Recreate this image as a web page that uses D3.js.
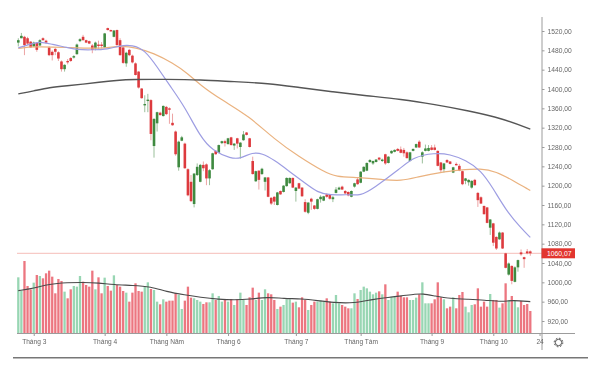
<!DOCTYPE html>
<html><head><meta charset="utf-8">
<style>html,body{margin:0;background:#fff}svg{display:block;filter:blur(.45px)}text{font-family:"Liberation Sans",Arial,sans-serif}</style>
<script src="https://cdn.jsdelivr.net/npm/d3@7"></script></head><body>
<svg id="c" width="600" height="370"></svg>
<script>
const opens=[1496,1505,1508,1505,1498,1488,1496,1490,1505,1500,1486,1477,1483,1476,1457,1441,1458,1464,1465,1472,1499,1508,1501,1499,1490,1484,1492,1492,1486,1526,1522,1508,1522,1501,1486,1453,1481,1469,1453,1436,1401,1367,1376,1377,1282,1329,1351,1344,1363,1360,1330,1312,1238,1293,1287,1234,1208,1162,1222,1208,1243,1244,1215,1234,1272,1268,1288,1292,1286,1300,1283,1298,1280,1294,1310,1298,1251,1209,1231,1224,1208,1217,1175,1177,1160,1189,1187,1199,1205,1216,1189,1205,1196,1166,1144,1173,1159,1152,1172,1169,1182,1182,1172,1185,1192,1198,1189,1187,1177,1198,1213,1206,1229,1231,1249,1246,1249,1258,1251,1265,1247,1267,1270,1276,1275,1274,1269,1251,1272,1279,1291,1260,1272,1272,1279,1279,1272,1248,1234,1253,1250,1227,1245,1241,1230,1210,1207,1196,1212,1185,1176,1158,1155,1113,1122,1094,1089,1103,1060,1016,1034,1001,1031,1062,1052,1064,1064];
const closes=[1501,1510,1491,1494,1486,1496,1481,1501,1501,1496,1470,1470,1477,1463,1441,1450,1456,1458,1468,1492,1503,1501,1496,1494,1481,1496,1489,1489,1515,1522,1520,1521,1491,1470,1454,1475,1470,1455,1429,1403,1381,1369,1378,1307,1338,1352,1346,1365,1348,1358,1325,1265,1291,1300,1236,1180,1168,1225,1239,1243,1236,1215,1232,1267,1265,1284,1292,1288,1298,1284,1287,1287,1289,1306,1305,1280,1224,1230,1212,1235,1217,1177,1163,1167,1186,1182,1200,1216,1216,1196,1196,1194,1178,1146,1165,1167,1152,1172,1177,1178,1177,1173,1176,1192,1196,1192,1184,1180,1189,1205,1203,1229,1239,1247,1253,1251,1254,1254,1254,1246,1260,1272,1274,1272,1268,1267,1257,1269,1276,1286,1279,1269,1277,1278,1274,1274,1241,1232,1246,1248,1245,1238,1243,1231,1203,1215,1212,1210,1201,1170,1163,1141,1123,1130,1082,1070,1103,1070,1030,1039,1003,1031,1046,1058,1048,1060,1060.07];
const highs=[1505,1516,1510,1508,1499,1498,1497,1503,1507,1502,1488,1480,1485,1478,1459,1451,1462,1466,1470,1494,1505,1512,1502,1500,1493,1498,1500,1497,1516,1527,1523,1522,1523,1505,1488,1477,1483,1471,1455,1437,1402,1387,1390,1379,1340,1353,1353,1366,1365,1362,1349,1314,1293,1303,1289,1236,1222,1226,1246,1245,1250,1246,1234,1268,1273,1285,1293,1295,1299,1301,1288,1299,1290,1313,1311,1299,1260,1231,1232,1237,1218,1218,1176,1178,1187,1190,1201,1217,1217,1217,1197,1206,1197,1172,1166,1175,1160,1173,1180,1179,1184,1183,1179,1197,1198,1200,1191,1188,1190,1206,1217,1230,1240,1248,1255,1252,1255,1259,1256,1266,1261,1273,1275,1278,1281,1278,1271,1270,1277,1287,1294,1271,1285,1284,1284,1285,1273,1249,1247,1255,1251,1239,1248,1245,1231,1216,1213,1211,1214,1187,1178,1159,1156,1131,1123,1095,1105,1104,1061,1041,1035,1033,1047,1068,1053,1069,1066];
const lows=[1488,1505,1470,1491,1485,1487,1477,1489,1500,1494,1468,1459,1470,1458,1436,1436,1451,1456,1463,1471,1497,1500,1495,1493,1474,1480,1482,1484,1485,1521,1519,1507,1489,1469,1452,1446,1468,1453,1428,1401,1380,1352,1352,1294,1258,1312,1345,1343,1346,1328,1324,1262,1231,1292,1235,1178,1166,1155,1220,1207,1230,1201,1201,1233,1264,1267,1286,1281,1285,1283,1274,1277,1256,1293,1304,1279,1223,1208,1192,1222,1190,1176,1160,1160,1159,1181,1186,1198,1204,1195,1167,1193,1177,1144,1141,1150,1150,1151,1165,1168,1175,1171,1166,1184,1191,1191,1182,1178,1176,1196,1202,1205,1228,1230,1247,1243,1248,1252,1249,1243,1246,1266,1269,1271,1267,1260,1256,1250,1271,1278,1278,1246,1271,1271,1273,1273,1240,1228,1227,1247,1244,1226,1242,1230,1201,1203,1200,1194,1200,1156,1162,1140,1122,1098,1075,1067,1088,1069,1029,1014,996,1000,1022,1055,1030,1058,1055];
const volumes=[168,128,217,142,132,152,175,172,165,180,188,170,120,163,157,125,105,132,142,140,172,155,145,140,188,132,168,120,167,142,128,174,145,140,127,122,95,122,150,127,125,140,153,133,130,95,87,102,95,98,98,120,115,73,98,140,107,105,100,95,88,93,93,120,100,112,95,103,95,103,85,102,122,100,85,108,137,100,122,100,132,120,117,100,73,80,85,102,102,92,95,78,108,100,70,85,95,95,98,95,105,95,90,115,90,85,80,75,75,120,103,130,140,135,125,117,122,126,117,147,100,110,110,125,112,108,108,100,100,107,117,153,90,90,90,102,153,108,102,75,80,108,75,115,124,80,63,85,87,135,80,95,80,118,100,100,77,90,150,100,112,98,78,97,85,88,67];
const blueIdx=[0,3,7,11,16,19,24,29,33,37,41,45,49,54,59,63,69,72,76,79,83,88,93,97,101,107,111,115,124,128,135,140,145,150,154,158,163,166];
const blueVal=[1485,1491,1499,1492,1486,1481,1481,1482,1490,1491,1481,1446,1408,1363,1301,1272,1256,1256,1269,1267,1253,1229,1205,1186,1180,1182,1179,1194,1236,1259,1268,1265,1253,1232,1194,1150,1112,1093];
const orangeIdx=[0,5,16,27,33,38,44,50,55,59,66,75,83,91,99,103,110,118,124,130,137,143,150,155,160,166];
const orangeVal=[1484,1488,1486,1483,1490,1486,1474,1454,1432,1408,1377,1343,1296,1260,1229,1218,1217,1213,1209,1219,1228,1232,1236,1229,1212,1190];
const blackIdx=[0,5,10,16,21,26,32,37,48,59,70,81,91,102,113,124,135,146,157,166];
const blackVal=[1390,1396,1403,1407,1410,1414,1418,1420,1420,1419,1415,1412,1403,1394,1386,1379,1368,1355,1339,1317];
const volMaIdx=[0,5,10,16,21,26,31,37,43,48,54,59,65,70,75,81,86,92,97,102,109,115,120,124,129,131,135,140,146,151,157,160,166];
const volMaVal=[128,135,148,152,153,151,146,144,140,125,115,108,102,100,102,109,104,104,98,92,90,102,108,112,118,119,112,104,102,100,94,100,95];
const priceTicks=[1520,1480,1440,1400,1360,1320,1280,1240,1200,1160,1120,1080,1040,1000,960,920];
const monthIdx=[5,28,48,68,90,111,134,154,169];
const monthLabels=["Tháng 3","Tháng 4","Tháng Năm","Tháng 6","Tháng 7","Tháng Tám","Tháng 9","Tháng 10","24"];
const lastPrice=1060.07;

const svg=d3.select("#c");
const x=d3.scaleLinear().domain([0,166]).range([18.3,530.3]);
const y=d3.scaleLinear().domain([920,1520]).range([321,31]);
const v=d3.scaleLinear().domain([0,250]).range([333.3,250]);
const RED="#dd3a3e",GREEN="#3f8a40",fmt=d=>d.toFixed(2).replace(".",",");
const idx=d3.range(opens.length);

svg.append("line").attr("x1",17).attr("x2",542).attr("y1",y(lastPrice)).attr("y2",y(lastPrice)).attr("stroke","#f6bdb8").attr("stroke-width",1);

svg.append("g").selectAll("rect").data(idx).join("rect")
 .attr("x",i=>x(i)-1.15).attr("width",2.3).attr("y",i=>v(volumes[i])).attr("height",i=>v(0)-v(volumes[i]))
 .attr("fill",i=>closes[i]>=opens[i]?"#98d6b3":"#ec7680");

const g=svg.append("g");
g.selectAll("line").data(idx).join("line")
 .attr("x1",i=>x(i)).attr("x2",i=>x(i)).attr("y1",i=>y(highs[i])).attr("y2",i=>y(lows[i]))
 .attr("stroke",i=>closes[i]>=opens[i]?"#8fb88f":"#eb9a9a").attr("stroke-width",.9);
g.selectAll("rect").data(idx).join("rect")
 .attr("x",i=>x(i)-1.3).attr("width",2.6)
 .attr("y",i=>y(Math.max(opens[i],closes[i]))).attr("height",i=>Math.max(1.4,Math.abs(y(opens[i])-y(closes[i]))))
 .attr("fill",i=>closes[i]>=opens[i]?GREEN:RED);

function ma(I,V,sy,color,w){
 svg.append("path").attr("fill","none").attr("stroke",color).attr("stroke-width",w)
  .attr("d",d3.line().x((d,k)=>x(I[k])).y(d=>sy(d)).curve(d3.curveBasis)(V));
}
ma(volMaIdx,volMaVal,v,"#4a4a4a",1.1);
ma(orangeIdx,orangeVal,y,"#eab27f",1.2);
ma(blueIdx,blueVal,y,"#9d9de2",1.2);
ma(blackIdx,blackVal,y,"#555",1.4);

const AX="#9c9c9c",TX="#666";
svg.append("line").attr("x1",542).attr("x2",542).attr("y1",17).attr("y2",350).attr("stroke",AX);
svg.append("line").attr("x1",17).attr("x2",575).attr("y1",333.5).attr("y2",333.5).attr("stroke",AX);
const ya=svg.append("g").attr("transform","translate(542,0)")
 .call(d3.axisRight(y).tickValues(priceTicks).tickFormat(fmt).tickSize(2.5).tickPadding(3));
ya.select(".domain").remove();
ya.selectAll("line").attr("stroke",AX);
ya.selectAll("text").attr("font-size",6.7).attr("fill",TX).style("font-family",'"Liberation Sans",Arial,sans-serif');
const xa=svg.append("g").attr("transform","translate(0,333.5)")
 .call(d3.axisBottom(x).tickValues(monthIdx).tickFormat((d,k)=>monthLabels[k]).tickSize(2.5).tickPadding(3.5));
xa.select(".domain").remove();
xa.selectAll("line").attr("stroke",AX);
xa.selectAll("text").attr("font-size",6.6).attr("fill",TX).style("font-family",'"Liberation Sans",Arial,sans-serif');

svg.append("rect").attr("x",541.5).attr("width",33.5).attr("y",y(lastPrice)-5).attr("height",10).attr("fill","#e2352f");
svg.append("text").attr("x",547).attr("y",y(lastPrice)+2.4).attr("font-size",6.8).attr("fill","#fff").text(fmt(lastPrice));

const gear=svg.append("g").attr("transform","translate(558.5,342.5)").attr("fill","none").attr("stroke","#444");
gear.append("circle").attr("r",3.2).attr("stroke-width",.9);
gear.append("circle").attr("r",4.3).attr("stroke-width",1).attr("stroke-dasharray","1.7 1.67");

svg.append("line").attr("x1",13).attr("x2",588).attr("y1",357.8).attr("y2",357.8).attr("stroke","#777").attr("stroke-width",1.4);
</script></body></html>
